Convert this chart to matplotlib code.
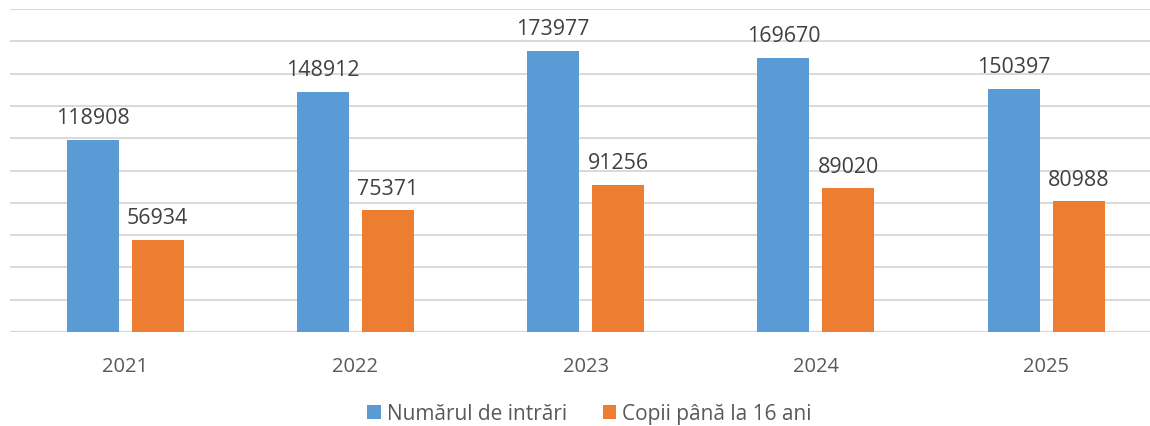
import matplotlib
matplotlib.use("Agg")
import matplotlib.pyplot as plt
import numpy as np

# data
years = ["2021", "2022", "2023", "2024", "2025"]
intrari = [118908, 148912, 173977, 169670, 150397]
copii = [56934, 75371, 91256, 89020, 80988]

blue = "#5B9BD5"
orange = "#ED7D31"
grid_col = "#D9D9D9"
text_col = "#404040"

plt.rcParams['font.family'] = ['Open Sans', 'DejaVu Sans']

W, H = 1150, 427
fig = plt.figure(figsize=(W / 100, H / 100), dpi=100)
# plot area: left edge at 10 px, baseline at 333 px, top gridline at 10 px
ax = fig.add_axes([10 / W, (H - 333) / H, 1 - 10 / W, 323 / H])

x = np.arange(len(years))
off = 32.5 / 230.25
bw = 52 / 230.25
b1 = ax.bar(x - off, intrari, bw, color=blue, label="Numărul de intrări", zorder=3)
b2 = ax.bar(x + off, copii, bw, color=orange, label="Copii până la 16 ani", zorder=3)

for bars, vals in ((b1, intrari), (b2, copii)):
    for rect, v in zip(bars, vals):
        ax.annotate(str(v), (rect.get_x() + rect.get_width() / 2, v),
                    xytext=(0, 12), textcoords="offset points",
                    ha="center", va="baseline", fontsize=15.4, color=text_col)

ax.set_ylim(0, 200000)
ax.set_yticks(np.arange(0, 200001, 20000))
ax.set_xlim(-0.5, (W - 10) / 230.25 - 0.5)
ax.set_xticks(x)
ax.set_xticklabels(years, fontsize=14.5, color="#595959")
ax.tick_params(axis="x", length=0, pad=17)
ax.tick_params(axis="y", length=0, labelleft=False)
ax.grid(axis="y", color=grid_col, linewidth=1.4, zorder=0)
ax.set_axisbelow(True)
for s in ax.spines.values():
    s.set_visible(False)
ax.axhline(0, color=grid_col, linewidth=1.6, zorder=1)

fig.legend(handles=[b1, b2], loc="center", bbox_to_anchor=(589.5 / W, 12 / H),
           ncol=2, frameon=False, fontsize=15, handlelength=0.65, handleheight=0.65,
           handletextpad=0.3, columnspacing=1.7, labelcolor="#595959")

fig.savefig("out.png", dpi=100)
